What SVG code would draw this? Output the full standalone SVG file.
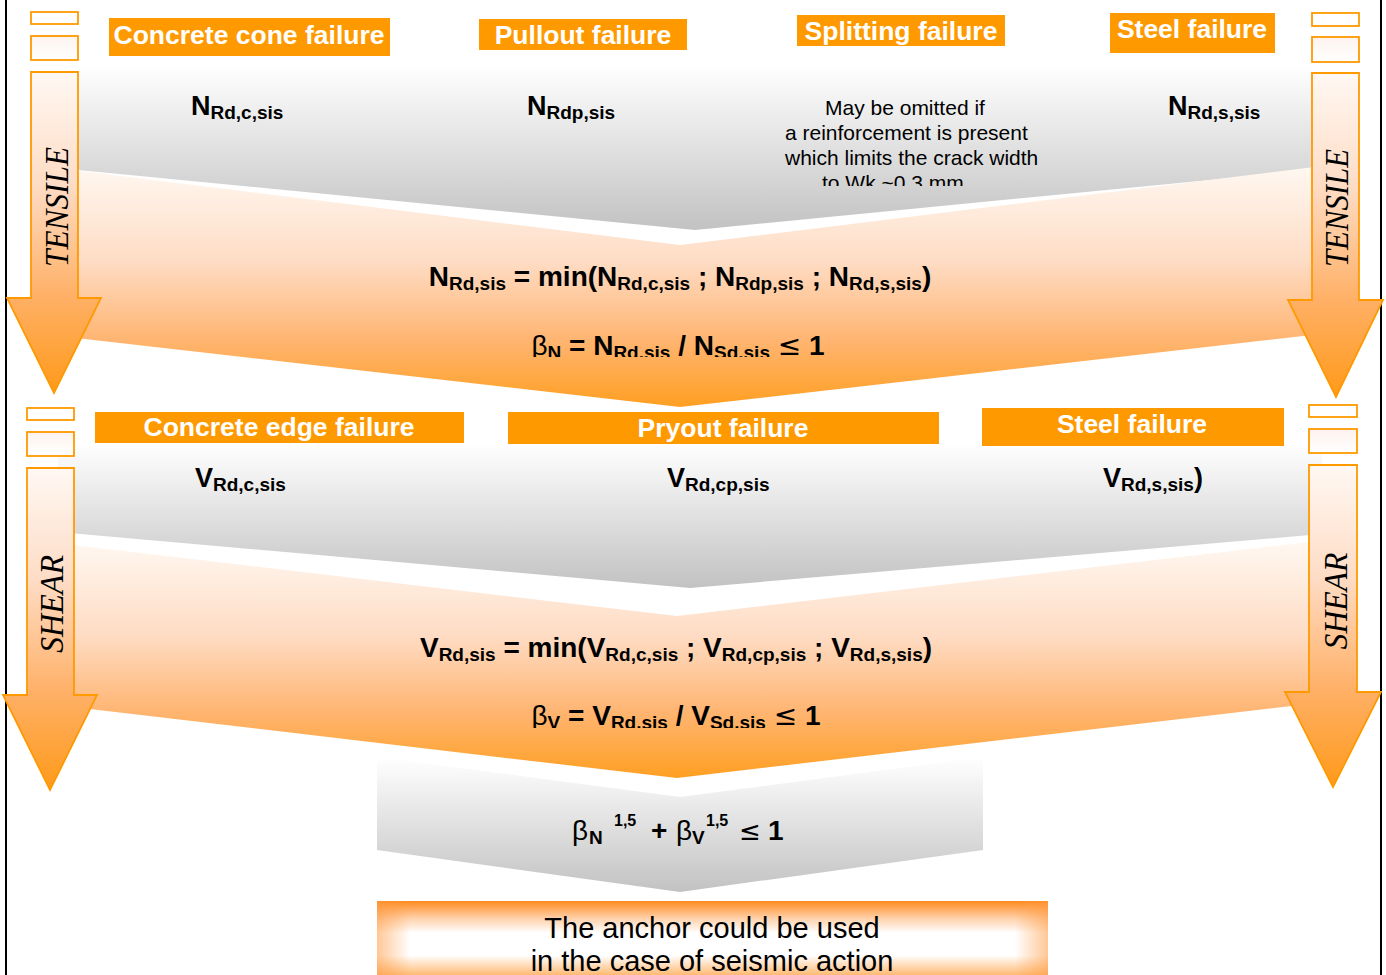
<svg xmlns="http://www.w3.org/2000/svg" width="1386" height="975" viewBox="0 0 1386 975">
<defs>
<style>
.t{font-family:"Liberation Sans",Arial,sans-serif;fill:#000}
.b{font-weight:bold}
.w{font-family:"Liberation Sans",Arial,sans-serif;font-weight:bold;fill:#fff;font-size:26.5px;text-anchor:middle}
.box{fill:#ff9900}
.arr{fill:url(#ga);stroke:#ff9900;stroke-width:1.8}
.sm{fill:#fff;stroke:#ff9900;stroke-width:1.8}
.sm2{fill:url(#gs);stroke:#ff9900;stroke-width:1.8}
.vert{font-family:"Liberation Serif","Times New Roman",serif;font-style:italic;font-size:34px;fill:#000;text-anchor:middle}
.f{font-size:28px;text-anchor:middle}
.s{font-size:19px}
.g{font-weight:normal}
.le{font-family:"DejaVu Sans","Liberation Sans",sans-serif;font-weight:normal}
</style>
<linearGradient id="gg" x1="0" y1="0" x2="0" y2="1">
<stop offset="0" stop-color="#ffffff"/><stop offset="0.2" stop-color="#f3f3f3"/><stop offset="1" stop-color="#c2c2c2"/>
</linearGradient>
<linearGradient id="go" x1="0" y1="0" x2="0" y2="1">
<stop offset="0" stop-color="#fff8f2"/><stop offset="0.4" stop-color="#fedcc4"/><stop offset="0.72" stop-color="#ffb572"/><stop offset="1" stop-color="#ff9f22"/>
</linearGradient>
<linearGradient id="ga" x1="0" y1="0" x2="0" y2="1">
<stop offset="0" stop-color="#fff8f3"/><stop offset="0.35" stop-color="#fedcc5"/><stop offset="0.7" stop-color="#ffb066"/><stop offset="1" stop-color="#ff9a1a"/>
</linearGradient>
<linearGradient id="gs" x1="0" y1="0" x2="0" y2="1">
<stop offset="0" stop-color="#fdf3ee"/><stop offset="1" stop-color="#ffffff"/>
</linearGradient>
<linearGradient id="gb" x1="0" y1="0" x2="0" y2="1">
<stop offset="0" stop-color="#ff8a1e"/><stop offset="0.22" stop-color="#ffd2ac"/><stop offset="0.4" stop-color="#ffffff"/><stop offset="0.68" stop-color="#ffffff"/><stop offset="1" stop-color="#ffa448"/>
</linearGradient>
<linearGradient id="gbh" x1="0" y1="0" x2="1" y2="0">
<stop offset="0" stop-color="#ff9a40" stop-opacity="0.55"/><stop offset="0.05" stop-color="#ff9a40" stop-opacity="0"/><stop offset="0.95" stop-color="#ff9a40" stop-opacity="0"/><stop offset="1" stop-color="#ff9a40" stop-opacity="0.55"/>
</linearGradient>
<clipPath id="c1"><rect x="0" y="0" width="1386" height="357"/></clipPath>
<clipPath id="c2"><rect x="0" y="0" width="1386" height="728"/></clipPath>
<clipPath id="c3"><rect x="0" y="0" width="1386" height="186"/></clipPath>
</defs>
<rect width="1386" height="975" fill="#fff"/>
<line x1="6" y1="0" x2="6" y2="975" stroke="#000" stroke-width="2"/>
<line x1="1381" y1="0" x2="1381" y2="975" stroke="#000" stroke-width="2"/>

<g id="tensile-gray">
<polygon points="78,65 1312,65 1312,170 695,230 78,170" fill="url(#gg)"/>
<text class="t b" font-size="27" x="191" y="115">N<tspan class="s" dy="4">Rd,c,sis</tspan></text>
<text class="t b" font-size="27" x="527" y="115">N<tspan class="s" dy="4">Rdp,sis</tspan></text>
<text class="t b" font-size="27" x="1168" y="115">N<tspan class="s" dy="4">Rd,s,sis</tspan></text>
<g class="t" font-size="21" clip-path="url(#c3)">
<text x="825" y="115">May be omitted if</text>
<text x="785" y="140">a reinforcement is present</text>
<text x="785" y="165">which limits the crack width</text>
<text x="822" y="190">to Wk ~0.3 mm</text>
</g>
</g>

<g id="tensile-orange">
<polygon points="32,165 680,245 1330,165 1330,333 680,407 32,333" fill="url(#go)"/>
<text class="t b f" x="680" y="286">N<tspan class="s" dy="4">Rd,sis</tspan><tspan dy="-4"> = min(N</tspan><tspan class="s" dy="4">Rd,c,sis</tspan><tspan dy="-4"> ; N</tspan><tspan class="s" dy="4">Rdp,sis</tspan><tspan dy="-4"> ; N</tspan><tspan class="s" dy="4">Rd,s,sis</tspan><tspan dy="-4">)</tspan></text>
<text class="t b f" x="678" y="355" clip-path="url(#c1)"><tspan class="g">β</tspan><tspan class="s" dy="4">N</tspan><tspan dy="-4"> = N</tspan><tspan class="s" dy="4">Rd.sis</tspan><tspan dy="-4"> / N</tspan><tspan class="s" dy="4">Sd.sis</tspan><tspan dy="-4"> </tspan><tspan class="le">≤</tspan><tspan> 1</tspan></text>
</g>

<g id="shear-gray">
<polygon points="58,443 1322,443 1322,534 690,588 58,532" fill="url(#gg)"/>
<text class="t b" font-size="27" x="195" y="487">V<tspan class="s" dy="4">Rd,c,sis</tspan></text>
<text class="t b" font-size="27" x="667" y="487">V<tspan class="s" dy="4">Rd,cp,sis</tspan></text>
<text class="t b" font-size="27" x="1103" y="487">V<tspan class="s" dy="4">Rd,s,sis</tspan><tspan dy="-4">)</tspan></text>
</g>

<g id="shear-orange">
<polygon points="30,540 677,616 1326,540 1326,702 677,778 30,702" fill="url(#go)"/>
<text class="t b f" x="676" y="657">V<tspan class="s" dy="4">Rd,sis</tspan><tspan dy="-4"> = min(V</tspan><tspan class="s" dy="4">Rd,c,sis</tspan><tspan dy="-4"> ; V</tspan><tspan class="s" dy="4">Rd,cp,sis</tspan><tspan dy="-4"> ; V</tspan><tspan class="s" dy="4">Rd,s,sis</tspan><tspan dy="-4">)</tspan></text>
<text class="t b f" x="676" y="725" clip-path="url(#c2)"><tspan class="g">β</tspan><tspan class="s" dy="4">V</tspan><tspan dy="-4"> = V</tspan><tspan class="s" dy="4">Rd.sis</tspan><tspan dy="-4"> / V</tspan><tspan class="s" dy="4">Sd.sis</tspan><tspan dy="-4"> </tspan><tspan class="le">≤</tspan><tspan> 1</tspan></text>
</g>

<g id="interaction">
<polygon points="377,757 680,797 983,757 983,850 680,892 377,850" fill="url(#gg)"/>
<g class="t b">
<text x="572" y="840" font-size="28" font-weight="normal">β</text>
<text x="589" y="844" font-size="19">N</text>
<text x="614" y="826" font-size="16">1,5</text>
<text x="651" y="840" font-size="28">+</text>
<text x="676" y="840" font-size="28" font-weight="normal">β</text>
<text x="692" y="844" font-size="19">V</text>
<text x="706" y="826" font-size="16">1,5</text>
<text class="le" x="739" y="840" font-size="26">≤</text>
<text x="768" y="840" font-size="28">1</text>
</g>
</g>

<g id="result">
<rect x="377" y="901" width="671" height="80" fill="url(#gb)"/>
<rect x="377" y="901" width="671" height="80" fill="url(#gbh)"/>
<text class="t" font-size="29" text-anchor="middle" x="712" y="938">The anchor could be used</text>
<text class="t" font-size="29" text-anchor="middle" x="712" y="971">in the case of seismic action</text>
</g>

<g id="labels-tensile">
<rect class="box" x="109" y="18" width="281" height="38"/><text class="w" x="249" y="44">Concrete cone failure</text>
<rect class="box" x="479" y="19" width="208" height="31"/><text class="w" x="583" y="44">Pullout failure</text>
<rect class="box" x="797" y="15" width="208" height="31"/><text class="w" x="901" y="40">Splitting failure</text>
<rect class="box" x="1110" y="13" width="165" height="40"/><text class="w" x="1192" y="38">Steel failure</text>
</g>
<g id="labels-shear">
<rect class="box" x="95" y="412" width="369" height="31"/><text class="w" x="279" y="436">Concrete edge failure</text>
<rect class="box" x="508" y="412" width="431" height="32"/><text class="w" x="723" y="437">Pryout failure</text>
<rect class="box" x="982" y="408" width="302" height="38"/><text class="w" x="1132" y="433">Steel failure</text>
</g>

<g id="connectors">
<g id="arrow-tensile-left">
<rect class="sm" x="31" y="12" width="47" height="12"/>
<rect class="sm2" x="31" y="36" width="47" height="24"/>
<polygon class="arr" points="31,72 78,72 78,298 101,298 54,393 7,298 31,298"/>
<text class="vert" transform="translate(68,207) rotate(-90)" textLength="120" lengthAdjust="spacingAndGlyphs">TENSILE</text>
</g>
<g id="arrow-tensile-right">
<rect class="sm" x="1312" y="13" width="47" height="13"/>
<rect class="sm2" x="1312" y="37" width="47" height="25"/>
<polygon class="arr" points="1312,73 1359,73 1359,300 1383,300 1336,397 1288,300 1312,300"/>
<text class="vert" transform="translate(1348,208) rotate(-90)" textLength="118" lengthAdjust="spacingAndGlyphs">TENSILE</text>
</g>
<g id="arrow-shear-left">
<rect class="sm" x="27" y="408" width="47" height="12"/>
<rect class="sm2" x="27" y="432" width="47" height="24"/>
<polygon class="arr" points="27,468 74,468 74,695 97,695 50,790 3,695 27,695"/>
<text class="vert" transform="translate(63,604) rotate(-90)" textLength="98" lengthAdjust="spacingAndGlyphs">SHEAR</text>
</g>
<g id="arrow-shear-right">
<rect class="sm" x="1309" y="405" width="48" height="12"/>
<rect class="sm2" x="1309" y="429" width="48" height="24"/>
<polygon class="arr" points="1309,465 1357,465 1357,692 1381,692 1333,787 1285,692 1309,692"/>
<text class="vert" transform="translate(1347,601) rotate(-90)" textLength="97" lengthAdjust="spacingAndGlyphs">SHEAR</text>
</g>
</g>
</svg>
